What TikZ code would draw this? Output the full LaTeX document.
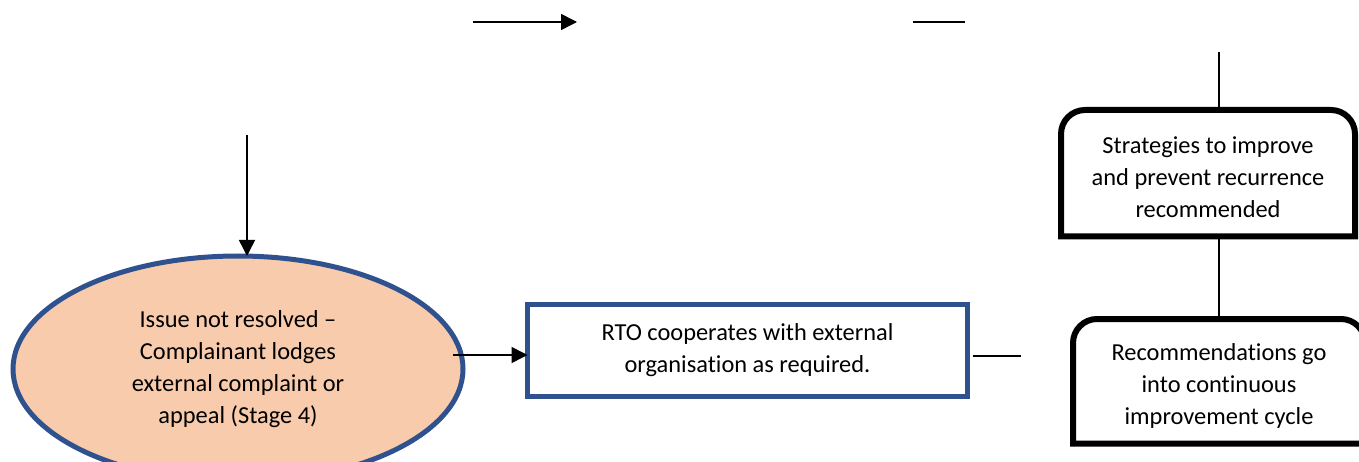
\documentclass[tikz,border=0pt]{standalone}
\usepackage{fontspec}
\setmainfont{Carlito}[Ligatures=NoCommon]
\usetikzlibrary{shapes.geometric,arrows.meta}
\definecolor{bordblue}{HTML}{2F528F}
\definecolor{peach}{HTML}{F8CBAD}
\tikzset{
  conn/.style={line width=1.5pt, black},
  arr/.style={conn, -{Triangle[length=16pt,width=16pt]}},
  txt/.style={font=\fontsize{24.4}{32}\selectfont, align=center, inner sep=0pt, outer sep=0pt},
  blackbox/.style={line width=6pt, black},
}
\begin{document}
\begin{tikzpicture}[x=1pt,y=-1pt]
\clip (0,0) rectangle (1359,462);
\fill[white] (0,0) rectangle (1359,462);
% ellipse
\node[txt, ellipse, draw=bordblue, line width=5pt, fill=peach, minimum width=450pt, minimum height=226pt] (ell) at (238,369)
  {Issue not resolved --\\Complainant lodges\\external complaint or\\appeal (Stage 4)};
% RTO box
\node[txt, rectangle, draw=bordblue, line width=5pt, minimum width=440pt, minimum height=92pt] (rto) at (747.5,350.5)
  {RTO cooperates with external\\organisation as required.};
% box 1
\node[rectangle, inner sep=0pt, outer sep=0pt, minimum width=294pt, minimum height=126.5pt] (b1) at (1208,173.25) {};
\draw[blackbox] (b1.south west) -- ([yshift=-24pt]b1.north west) arc[start angle=180,end angle=90,radius=24pt]
  -- ([xshift=-24pt]b1.north east) arc[start angle=90,end angle=0,radius=24pt] -- (b1.south east) -- cycle;
\node[txt] (b1t) at ([yshift=-4pt]b1.center) {Strategies to improve\\and prevent recurrence\\recommended};
% box 2
\node[rectangle, inner sep=0pt, outer sep=0pt, minimum width=292pt, minimum height=124.5pt] (b2) at (1219,381.25) {};
\draw[blackbox] (b2.south west) -- ([yshift=-24pt]b2.north west) arc[start angle=180,end angle=90,radius=24pt]
  -- ([xshift=-24pt]b2.north east) arc[start angle=90,end angle=0,radius=24pt] -- (b2.south east) -- cycle;
\node[txt] (b2t) at ([yshift=-5pt]b2.center) {Recommendations go\\into continuous\\improvement cycle};
% connectors
\coordinate (t0) at (473,22);
\coordinate (t1) at (577,22);
\coordinate (t2) at (913,22);
\coordinate (t3) at (965,22);
\draw[arr] (t0) -- (t1);
\draw[conn] (t2) -- (t3);
\coordinate (d0) at (247,135);
\draw[arr] (d0) -- (d0 |- ell.north);
\coordinate (a0) at (453,355);
\draw[arr] (a0) -- (a0 -| rto.west);
\coordinate (r1) at (1021,356);
\draw[conn] ([xshift=5pt]rto.east |- r1) -- (r1);
\coordinate (v0) at (1219,52);
\draw[conn] (v0) -- ([yshift=3pt]v0 |- b1.north);
\draw[conn] ([yshift=-3pt]v0 |- b1.south) -- ([yshift=3pt]v0 |- b2.north);
\end{tikzpicture}
\end{document}
